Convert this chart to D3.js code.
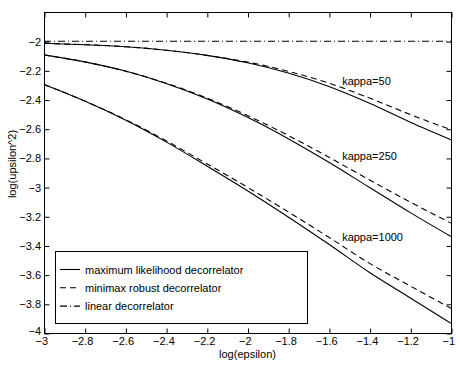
<!DOCTYPE html>
<html>
<head>
<meta charset="utf-8">
<script src="https://cdn.jsdelivr.net/npm/d3@7"></script>
<style>
  html, body { margin: 0; padding: 0; background: #fff; }
  svg { display: block; font-family: "Liberation Sans", Arial, Helvetica, sans-serif; }
</style>
</head>
<body>
<svg id="chart" width="460" height="369"></svg>
<script>
// ---- data ----
const logEps = [-3, -2.8, -2.6, -2.4, -2.2, -2.0, -1.8, -1.6, -1.4, -1.2, -1.0];

const ml50    = [-2.015, -2.024, -2.038, -2.062, -2.097, -2.148, -2.218, -2.310, -2.425, -2.555, -2.675];
const ml250   = [-2.094, -2.142, -2.205, -2.290, -2.395, -2.522, -2.668, -2.830, -3.003, -3.175, -3.339];
const ml1000  = [-2.297, -2.410, -2.540, -2.690, -2.855, -3.025, -3.205, -3.392, -3.585, -3.760, -3.934];

const mm50    = [-2.015, -2.024, -2.038, -2.062, -2.097, -2.143, -2.206, -2.288, -2.390, -2.503, -2.607];
const mm250   = [-2.094, -2.142, -2.205, -2.288, -2.389, -2.510, -2.646, -2.795, -2.951, -3.103, -3.247];
const mm1000  = [-2.297, -2.410, -2.537, -2.682, -2.840, -3.001, -3.170, -3.344, -3.523, -3.678, -3.831];

const linear  = [-2, -2, -2, -2, -2, -2, -2, -2, -2, -2, -2];

const xTicks = [-3, -2.8, -2.6, -2.4, -2.2, -2, -1.8, -1.6, -1.4, -1.2, -1];
const yTicks = [-4, -3.8, -3.6, -3.4, -3.2, -3, -2.8, -2.6, -2.4, -2.2, -2];

const curveLabels = [
  { text: "kappa=50",   x: -1.535, y: -2.276 },
  { text: "kappa=250",  x: -1.535, y: -2.789 },
  { text: "kappa=1000", x: -1.535, y: -3.341 }
];

const legendItems = [
  { text: "maximum likelihood decorrelator", style: "solid" },
  { text: "minimax robust decorrelator",     style: "dash" },
  { text: "linear decorrelator",             style: "dashdot" }
];

const xLabel = "log(epsilon)";
const yLabel = "log(upsilon^2)";

// ---- layout ----
const L = 44, R = 451, T = 12, B = 333;
const svg = d3.select("#chart");
const x = d3.scaleLinear().domain([-3, -1]).range([L, R]);
const y = d3.scaleLinear().domain([-4, -1.8]).range([B, T]);

const dashes = { solid: null, dash: "6,4", dashdot: "7,3,1,3" };
const fmt = d => (d < 0 ? "\u2212" : "") + String(Math.abs(+d.toFixed(1)));

// plot lines
const line = d3.line().x((d, i) => x(logEps[i])).y(d => y(d)).curve(d3.curveMonotoneX);
const series = [
  { v: linear, s: "dashdot" },
  { v: ml50, s: "solid" }, { v: mm50, s: "dash" },
  { v: ml250, s: "solid" }, { v: mm250, s: "dash" },
  { v: ml1000, s: "solid" }, { v: mm1000, s: "dash" }
];
const g = svg.append("g");
series.forEach(sr => {
  g.append("path").attr("d", line(sr.v))
    .attr("fill", "none").attr("stroke", "#000").attr("stroke-width", 1.1)
    .attr("stroke-dasharray", dashes[sr.s]);
});

// axes (ticks inward, mirrored)
const fontSize = 11;
const axB = d3.axisBottom(x).tickValues(xTicks).tickSizeInner(-5).tickSizeOuter(0).tickFormat(fmt).tickPadding(4);
const axT = d3.axisTop(x).tickValues(xTicks).tickSizeInner(-5).tickSizeOuter(0).tickFormat("");
const axLft = d3.axisLeft(y).tickValues(yTicks).tickSizeInner(-5).tickSizeOuter(0).tickFormat(fmt).tickPadding(3.5);
const axRt = d3.axisRight(y).tickValues(yTicks).tickSizeInner(-5).tickSizeOuter(0).tickFormat("");

function style(sel) {
  sel.select(".domain").remove();
  sel.selectAll("line").attr("stroke", "#000");
  sel.selectAll("text").attr("fill", "#000").attr("font-size", fontSize)
    .attr("font-family", "'Liberation Sans', Arial, Helvetica, sans-serif");
}
const gb = svg.append("g").attr("transform", `translate(0.5,${B + 0.5})`).call(axB).call(style);
gb.selectAll("text").attr("dx", -3.2);
svg.append("g").attr("transform", `translate(0.5,${T + 0.5})`).call(axT).call(style);
const gl = svg.append("g").attr("transform", `translate(${L + 0.5},0.5)`).call(axLft).call(style);
// lowest y label sits just above the corner, clear of the first x label
gl.selectAll("text").filter(d => d === -4).attr("y", -3);
svg.append("g").attr("transform", `translate(${R + 0.5},0.5)`).call(axRt).call(style);

// frame
svg.append("rect").attr("x", L + 0.5).attr("y", T + 0.5).attr("width", R - L).attr("height", B - T)
  .attr("fill", "none").attr("stroke", "#000").attr("stroke-width", 1);

// curve labels
svg.selectAll(".clab").data(curveLabels).enter().append("text")
  .attr("x", d => x(d.x)).attr("y", d => y(d.y))
  .attr("font-size", 11).attr("fill", "#000").attr("dominant-baseline", "central")
  .text(d => d.text);

// axis labels
svg.append("text").attr("x", (L + R) / 2).attr("y", 357.5).attr("text-anchor", "middle")
  .attr("font-size", 11).attr("fill", "#000").text(xLabel);
svg.append("text").attr("transform", "translate(16,164) rotate(-90)").attr("text-anchor", "middle")
  .attr("font-size", 11).attr("fill", "#000").text(yLabel);

// legend
const lg = svg.append("g");
lg.append("rect").attr("x", 55.5).attr("y", 251.5).attr("width", 252).attr("height", 72)
  .attr("fill", "#fff").attr("stroke", "#000").attr("stroke-width", 1);
legendItems.forEach((it, i) => {
  const cy = 269.5 + i * 18.3;
  lg.append("line").attr("x1", 60).attr("x2", 80).attr("y1", cy).attr("y2", cy)
    .attr("stroke", "#000").attr("stroke-width", 1.1).attr("stroke-dasharray", dashes[it.style]);
  lg.append("text").attr("x", 85).attr("y", cy).attr("dominant-baseline", "central")
    .attr("font-size", 11).attr("fill", "#000").text(it.text);
});
</script>
</body>
</html>
